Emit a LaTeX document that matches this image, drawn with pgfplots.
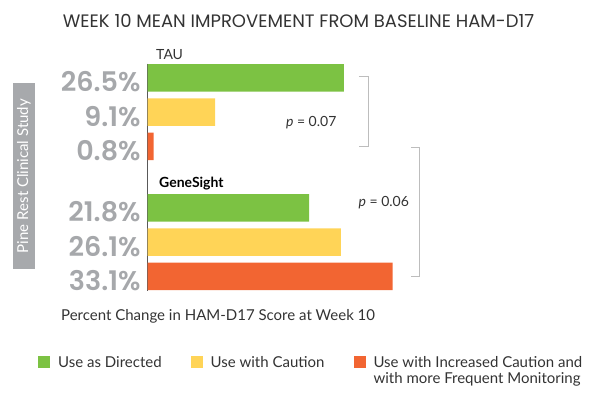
\documentclass[border=0pt]{standalone}
\usepackage{pgfplots}
\pgfplotsset{compat=1.18}
\usepackage{fontspec}
\setmainfont{Lato}
\newfontfamily\pop[BoldFont={Poppins SemiBold}]{Poppins}
\definecolor{cgreen}{HTML}{7CC243}
\definecolor{cyellow}{HTML}{FFD457}
\definecolor{cred}{HTML}{F26532}
\definecolor{numgray}{HTML}{A6A8AB}
\definecolor{brgray}{HTML}{BDBDBD}
\definecolor{boxgray}{HTML}{A7A9AC}
\definecolor{txt}{HTML}{333333}
\begin{document}
\begin{tikzpicture}
\useasboundingbox (0,0) rectangle (600pt,399pt);
\begin{axis}[
  at={(147.7pt,108.3pt)}, anchor=south west,
  scale only axis, width=296pt, height=227.1pt,
  xmin=0, xmax=40, ymin=-0.42, ymax=6.22,
  y dir=reverse,
  axis x line=none,
  axis y line=left,
  y axis line style={-, draw=black!65, line width=0.8pt},
  xbar, bar width=27.5pt,
  legend image code/.code={\fill[#1] (0pt,-0.5pt) rectangle (12pt,11.5pt);},
  ytick={0,1,2,3.8,4.8,5.8},
  yticklabels={26.5\%,9.1\%,0.8\%,21.8\%,26.1\%,33.1\%},
  major tick length=0pt,
  yticklabel style={font=\pop\bfseries\fontsize{27}{30}\selectfont, text=numgray, anchor=base east, inner sep=0pt, xshift=-7pt, yshift=-14pt},
  clip=false,
  legend columns=3,
  legend style={at={(-0.3807,-0.2787)}, anchor=north west, draw=none, fill=none,
    font=\fontsize{15}{16}\selectfont, text=txt,
    nodes={inner sep=0pt, anchor=base west},
    /tikz/every odd column/.append style={column sep=8pt},
    /tikz/every even column/.append style={column sep=29pt}},
]
\addplot[fill=cgreen, draw=none, bar shift=0pt] coordinates {(26.5,0) (21.8,3.8)};
\addlegendentry{Use as Directed}
\addplot[fill=cyellow, draw=none, bar shift=0pt] coordinates {(9.1,1) (26.1,4.8)};
\addlegendentry{Use with Caution}
\addplot[fill=cred, draw=none, bar shift=0pt] coordinates {(0.8,2) (33.1,5.8)};
\addlegendentry{\vtop{\baselineskip=16pt\hbox{Use with Increased Caution and}\hbox{with more Frequent Monitoring}}}
\draw[brgray, line width=0.9pt] (axis cs:28.55,-0.03) -- (axis cs:29.77,-0.03) -- (axis cs:29.77,1.99) -- (axis cs:28.55,1.99);
\draw[brgray, line width=0.9pt] (axis cs:35.58,2.02) -- (axis cs:36.66,2.02) -- (axis cs:36.66,5.79) -- (axis cs:35.58,5.79);
\node[font=\fontsize{14}{16}\selectfont, text=txt] at (axis cs:22.1,1.32) {\textit{p} = 0.07};
\node[font=\fontsize{14}{16}\selectfont, text=txt] at (axis cs:31.9,3.64) {\textit{p} = 0.06};
\end{axis}
\node[anchor=base, font=\pop\fontsize{18}{20}\selectfont, text=txt] at (298.5pt,371pt) {WEEK 10 MEAN IMPROVEMENT FROM BASELINE HAM-D17};
\node[anchor=base west, inner sep=0pt, font=\fontsize{14}{16}\selectfont, text=txt] at (156pt,339pt) {TAU};
\node[anchor=base west, inner sep=0pt, font=\bfseries\fontsize{14}{16}\selectfont, text=black] at (159pt,211pt) {GeneSight};
\node[anchor=base west, inner sep=0pt, font=\fontsize{15}{16}\selectfont, text=txt] at (61pt,78pt) {Percent Change in HAM-D17 Score at Week 10};
\node[fill=boxgray, rotate=90, minimum width=186pt, minimum height=22pt, inner sep=0pt, text=white, font=\fontsize{15}{16}\selectfont] at (24pt,223pt) {Pine Rest Clinical Study};
\end{tikzpicture}
\end{document}
